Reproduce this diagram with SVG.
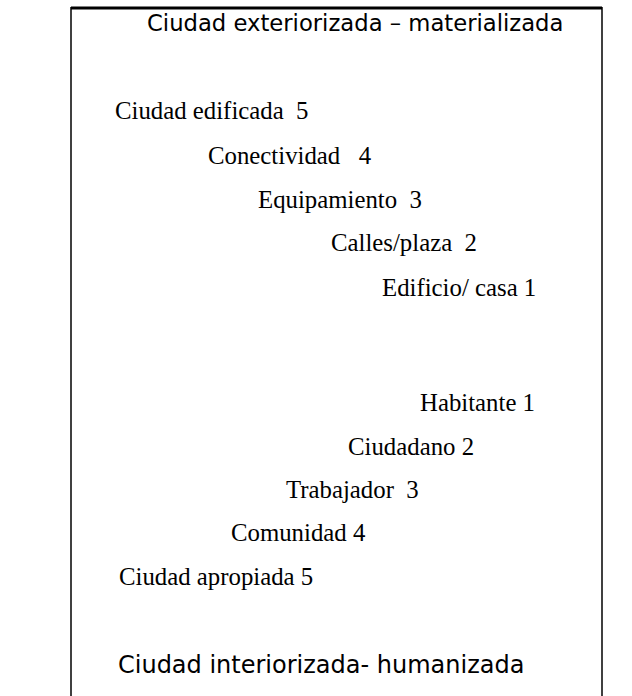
<svg xmlns="http://www.w3.org/2000/svg" width="632" height="696" viewBox="0 0 632 696">
  <style>
    .frame { stroke: #000; fill: none; }
    .head { font-family: "DejaVu Sans", "Verdana", sans-serif; fill: #000; }
    .lbl { font-family: "Liberation Serif", "Times New Roman", serif; font-size: 24.8px; fill: #000; white-space: pre; }
  </style>
  <rect width="632" height="696" fill="#fff"/>
  <!-- open frame: heavy top rule and side rules running off the page -->
  <g id="frame">
    <line class="frame" x1="71" y1="8" x2="602" y2="8" stroke-width="3"/>
    <line class="frame" x1="71" y1="7" x2="71" y2="696" stroke-width="1.5"/>
    <line class="frame" x1="602" y1="7" x2="602" y2="696" stroke-width="1.5"/>
  </g>
  <g id="title-top"><text class="head" x="147" y="31" font-size="22.7">Ciudad exteriorizada – materializada</text></g>
  <!-- built city scale, 5 down to 1 -->
  <g id="edificada-5"><text class="lbl" x="115" y="119">Ciudad edificada  5</text></g>
  <g id="conectividad-4"><text class="lbl" x="208" y="164">Conectividad   4</text></g>
  <g id="equipamiento-3"><text class="lbl" x="258" y="208">Equipamiento  3</text></g>
  <g id="calles-2"><text class="lbl" x="331" y="251">Calles/plaza  2</text></g>
  <g id="edificio-1"><text class="lbl" x="382" y="296">Edificio/ casa 1</text></g>
  <!-- inhabited city scale, 1 up to 5 -->
  <g id="habitante-1"><text class="lbl" x="420" y="411">Habitante 1</text></g>
  <g id="ciudadano-2"><text class="lbl" x="348" y="455">Ciudadano 2</text></g>
  <g id="trabajador-3"><text class="lbl" x="286" y="498">Trabajador  3</text></g>
  <g id="comunidad-4"><text class="lbl" x="231" y="541">Comunidad 4</text></g>
  <g id="apropiada-5"><text class="lbl" x="119" y="585">Ciudad apropiada 5</text></g>
  <g id="title-bottom"><text class="head" x="118" y="673" font-size="24">Ciudad interiorizada- humanizada</text></g>
</svg>
